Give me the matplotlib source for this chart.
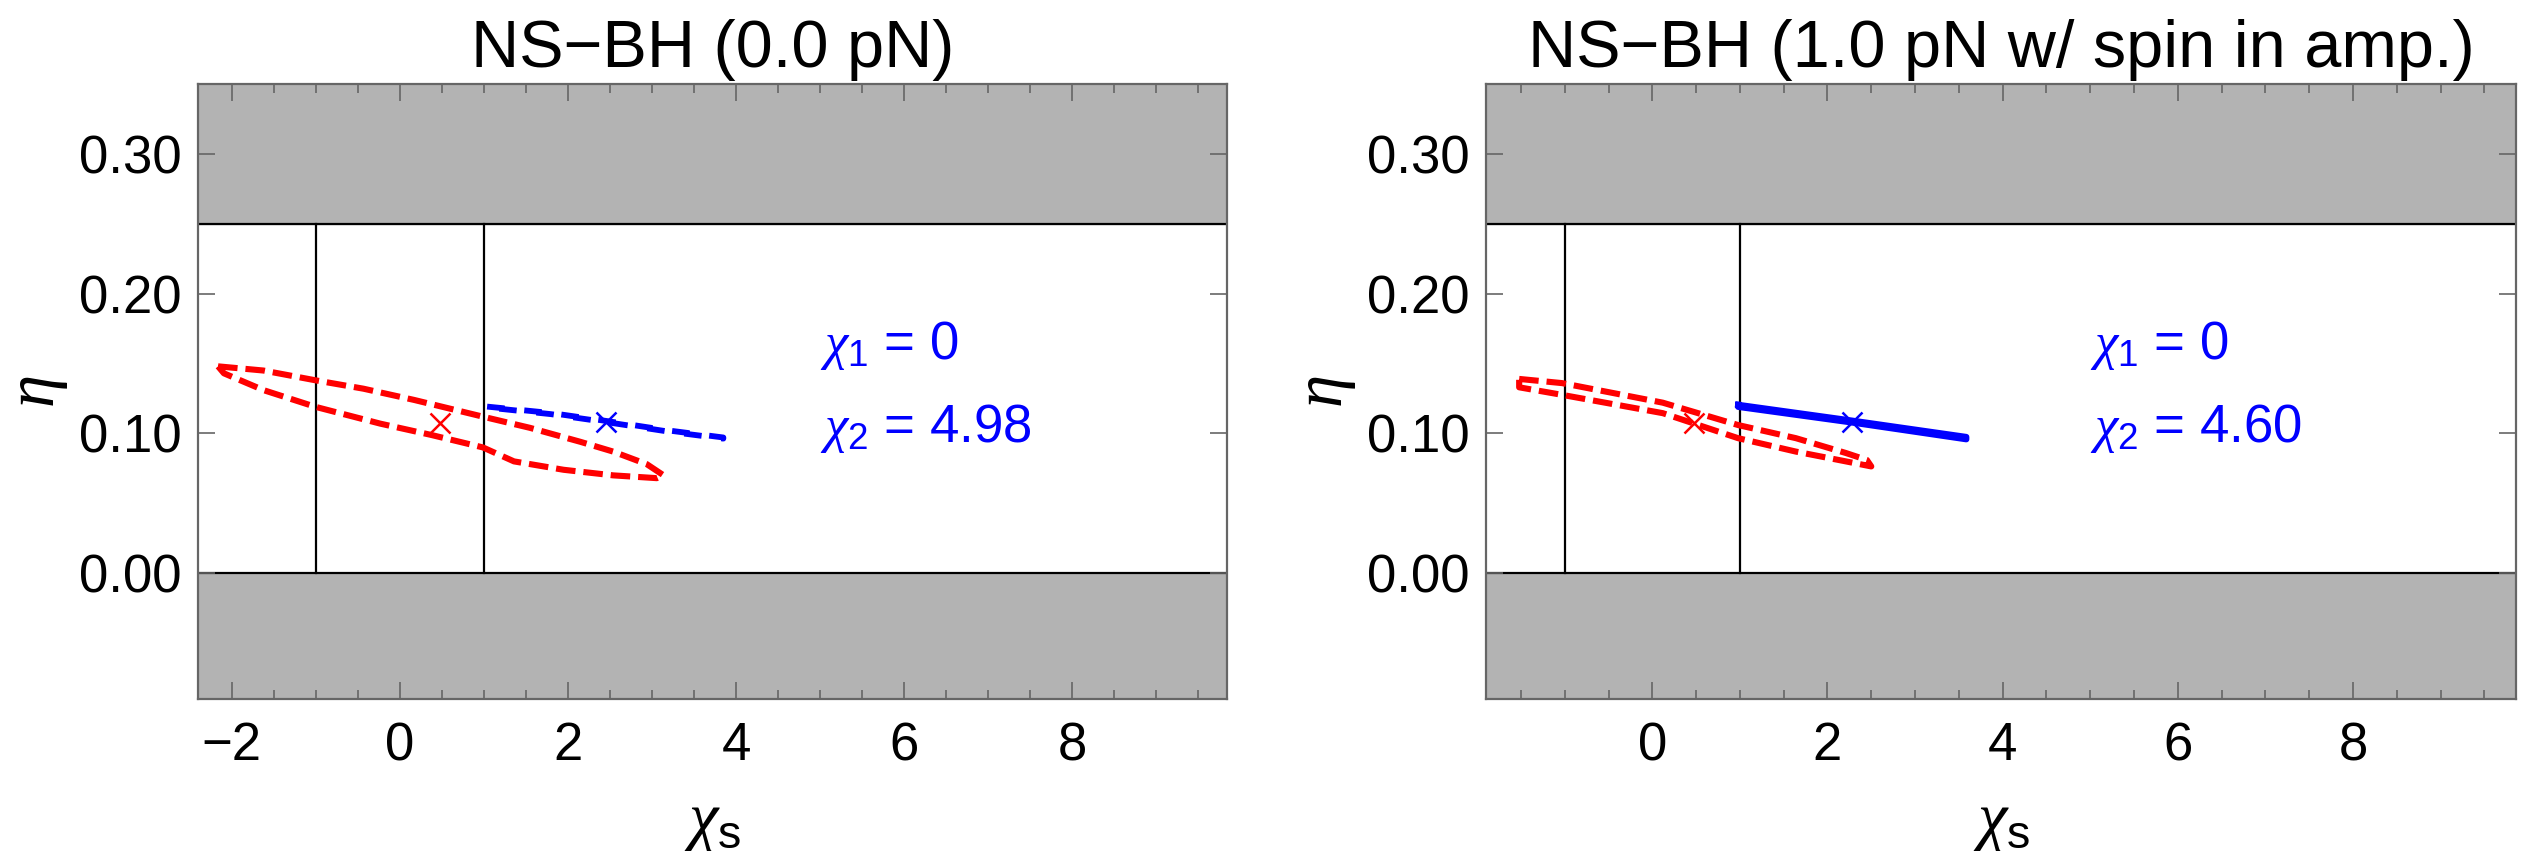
import matplotlib.pyplot as plt
from matplotlib.ticker import MultipleLocator, FormatStrFormatter

plt.rcParams['font.family'] = ['Liberation Sans', 'DejaVu Sans']
plt.rcParams['mathtext.fontset'] = 'custom'
plt.rcParams['mathtext.rm'] = 'Liberation Sans'
plt.rcParams['mathtext.it'] = 'Liberation Serif:italic'
plt.rcParams['axes.unicode_minus'] = True

# panel settings
titles = ['NS\u2212BH (0.0 pN)', 'NS\u2212BH (1.0 pN w/ spin in amp.)']
chi1_vals = ['0', '0']
chi2_vals = ['4.98', '4.60']
xlims = [(-2.4, 9.84), (-1.9, 9.86)]
ylim = (-0.09, 0.35)
eta_max = 0.25  # physical upper bound of eta
chi_bounds = [-1.0, 1.0]

# red (no-spin template) error ellipses, closed contours
red_x = [
    [-2.16, -1.62, -1.00, -0.43, 0.17, 0.99, 1.55, 2.15, 2.54, 2.94, 3.14,
     3.06, 2.54, 1.95, 1.36, 0.99, 0.37, -0.23, -1.00, -1.62, -2.09, -2.16],
    [-1.52, -1.03, 0.12, 0.98, 1.64, 2.21, 2.45, 2.50,
     2.21, 1.64, 0.98, 0.12, -1.03, -1.52, -1.52],
]
red_y = [
    [0.148, 0.145, 0.138, 0.132, 0.124, 0.112, 0.104, 0.094, 0.087, 0.078, 0.070,
     0.068, 0.070, 0.074, 0.080, 0.090, 0.099, 0.107, 0.119, 0.131, 0.143, 0.148],
    [0.139, 0.136, 0.122, 0.106, 0.0966, 0.086, 0.081, 0.0764,
     0.080, 0.087, 0.0966, 0.1145, 0.1276, 0.133, 0.139],
]
red_center = [(0.48, 0.1076), (0.48, 0.1073)]

# blue (spinning template) contours, very thin
blue_x = [
    [1.04, 1.80, 2.46, 3.20, 3.85, 3.85, 3.20, 2.46, 1.80, 1.04, 1.04],
    [0.98, 2.28, 3.585, 3.585, 2.28, 0.98, 0.98],
]
blue_y = [
    [0.1192, 0.1146, 0.1089, 0.1021, 0.0971, 0.0963, 0.1013, 0.1081, 0.1138, 0.1186, 0.1192],
    [0.1205, 0.1092, 0.0975, 0.0958, 0.1078, 0.1190, 0.1205],
]
blue_center = [(2.46, 0.1085), (2.28, 0.1085)]
blue_style = [(0, (3.0, 3.4)), '-']
blue_lw = [4.2, 4.4]

fig = plt.figure(figsize=(25.24, 8.51), dpi=100)
axes = [fig.add_axes([0.0784, 0.1786, 0.4077, 0.7227]),
        fig.add_axes([0.5887, 0.1786, 0.4081, 0.7227])]

for i, ax in enumerate(axes):
    ax.set_xlim(xlims[i])
    ax.set_ylim(ylim)

    # excluded regions
    ax.axhspan(eta_max, ylim[1], color='#b3b3b3', zorder=0)
    ax.axhspan(ylim[0], 0, color='#b3b3b3', zorder=0)
    ax.axhline(eta_max, color='black', lw=1.6, zorder=1)
    ax.axhline(0, color='black', lw=1.6, zorder=1)
    for xb in chi_bounds:
        ax.plot([xb, xb], [0, eta_max], color='black', lw=1.6, zorder=1)

    ax.plot(red_x[i], red_y[i], color='red', lw=4.4, linestyle=(0, (3.2, 1.3)), zorder=3)
    ax.plot(blue_x[i], blue_y[i], color='blue', lw=blue_lw[i], linestyle=blue_style[i], zorder=3)
    ax.plot(*red_center[i], 'x', color='red', ms=15, mew=1.8, zorder=4)
    ax.plot(*blue_center[i], 'x', color='blue', ms=15, mew=1.8, zorder=4)

    ax.text(5.0, 0.153, r'$\chi_1$ = ' + chi1_vals[i], color='blue', fontsize=38)
    ax.text(5.0, 0.094, r'$\chi_2$ = ' + chi2_vals[i], color='blue', fontsize=38)

    ax.set_title(titles[i], fontsize=48, pad=12)
    ax.set_xlabel(r'$\chi_\mathrm{s}$', fontsize=48, labelpad=16)
    ax.set_ylabel(r'$\eta$', fontsize=48, labelpad=6)

    ax.xaxis.set_major_locator(MultipleLocator(2))
    ax.xaxis.set_minor_locator(MultipleLocator(0.5))
    ax.set_yticks([0.0, 0.1, 0.2, 0.3])
    ax.yaxis.set_major_formatter(FormatStrFormatter('%.2f'))
    ax.tick_params(which='both', direction='in', top=True, right=True,
                   color='#666666', width=1.2, labelsize=38)
    ax.tick_params(axis='x', which='major', length=12, pad=16)
    ax.tick_params(axis='y', which='major', length=12, pad=12)
    ax.tick_params(which='minor', length=6.5)
    for s in ax.spines.values():
        s.set_color('#666666')
        s.set_linewidth(1.6)

fig.savefig('out.png', dpi=100)
